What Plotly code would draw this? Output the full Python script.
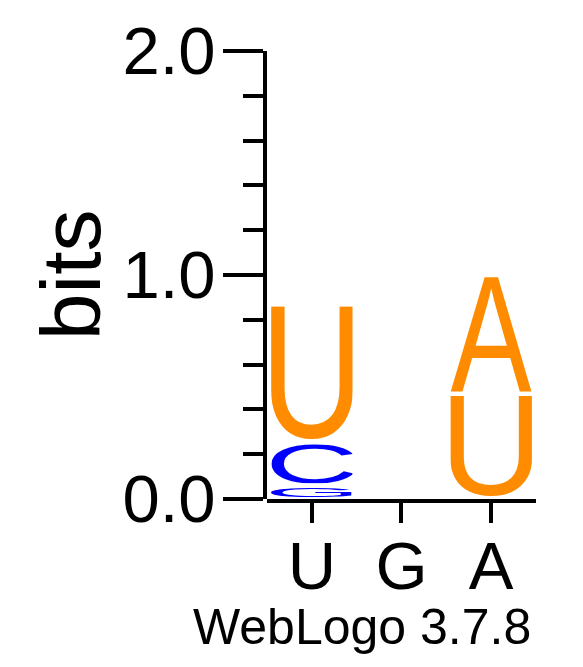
import base64
import plotly.graph_objects as go

# ---------------- data ----------------
positions = [1, 2, 3]
position_labels = ["U", "G", "A"]
# letters stacked in each column (bottom -> top) and their heights in bits
col1_letters = ["G", "C", "U"]
col1_bits = [0.061, 0.197, 0.612]
col2_letters = []
col2_bits = []
col3_letters = ["U", "A"]
col3_bits = [0.469, 0.530]
y_major_ticks = [0.0, 1.0, 2.0]
y_minor_step = 0.2
y_title = "bits"
footer = "WebLogo 3.7.8"

columns = [(col1_letters, col1_bits), (col2_letters, col2_bits), (col3_letters, col3_bits)]

# ---------------- style ----------------
FONT = "Liberation Sans, Arial, Helvetica, sans-serif"
COLORS = {"A": "#FF8C00", "U": "#FF8C00", "T": "#FF8C00", "G": "#0000FF", "C": "#0000FF"}
# approximate ink bounding boxes of the glyphs (font-size 100, baseline at 0)
GLYPH_BOX = {
    "U": (7.7, -68.8, 56.5, 70.0),
    "A": (-0.1, -68.8, 66.9, 68.8),
    "C": (4.8, -70.0, 62.8, 71.2),
    "G": (5.3, -70.0, 66.0, 71.2),
}
LETTER_WIDTH = 0.908   # fraction of a column
GAP = 0.009            # vertical padding (bits) above/below each glyph


def glyph_uri(ch):
    x0, y0, w, h = GLYPH_BOX[ch]
    svg = (
        f"<svg xmlns='http://www.w3.org/2000/svg' width='{w}' height='{h}' "
        f"viewBox='{x0} {y0} {w} {h}' preserveAspectRatio='none'>"
        f"<text x='0' y='0' font-family='Liberation Sans, Arial, sans-serif' "
        f"font-size='100' fill='{COLORS[ch]}'>{ch}</text></svg>"
    )
    return "data:image/svg+xml;base64," + base64.b64encode(svg.encode()).decode()


images = []
for pos, (letters, bits) in zip(positions, columns):
    bottom = 0.0
    for ch, h in zip(letters, bits):
        gh = h - 2 * GAP
        if gh > 0:
            images.append(dict(
                source=glyph_uri(ch), xref="x", yref="y",
                x=pos - LETTER_WIDTH / 2, y=bottom + h - GAP,
                sizex=LETTER_WIDTH, sizey=gh,
                sizing="stretch", xanchor="left", yanchor="top", layer="above",
            ))
        bottom += h

fig = go.Figure()
fig.add_trace(go.Scatter(x=positions, y=[0] * len(positions), mode="markers",
                         marker=dict(opacity=0), hoverinfo="skip", showlegend=False))

L, R, T, B = 264.5, 46.5, 50.5, 168
W, H = 583, 667
paper_w = W - L - R

fig.update_layout(
    width=W, height=H,
    margin=dict(l=L, r=R, t=T, b=B, pad=0),
    paper_bgcolor="white", plot_bgcolor="white",
    showlegend=False,
    images=images,
    font=dict(family=FONT, color="black"),
    xaxis=dict(
        domain=[2 / paper_w, 1], range=[positions[0] - 0.5, positions[-1] + 0.5],
        anchor="y", showline=True, linewidth=4, linecolor="black",
        ticks="outside", ticklen=20, tickwidth=4, tickcolor="black",
        tickvals=positions, ticktext=position_labels, ticklabelstandoff=-14,
        tickfont=dict(size=67, family=FONT, color="black"),
        showgrid=False, zeroline=False, fixedrange=True,
    ),
    yaxis=dict(
        anchor="free", position=0, range=[0, 2],
        showline=True, linewidth=4, linecolor="black",
        ticks="outside", ticklen=40, tickwidth=4, tickcolor="black",
        tickvals=y_major_ticks, tickformat=".1f", ticklabelstandoff=-6,
        tickfont=dict(size=67, family=FONT, color="black"),
        minor=dict(dtick=y_minor_step, ticks="outside", ticklen=20, tickwidth=4,
                   tickcolor="black", showgrid=False),
        showgrid=False, zeroline=False, fixedrange=True,
    ),
    annotations=[
        dict(text=y_title, xref="paper", yref="y", x=(70 - L) / paper_w, y=1.0,
             xanchor="center", yanchor="middle", textangle=-90, showarrow=False,
             font=dict(size=84, family=FONT, color="black")),
        dict(text=footer, xref="paper", yref="paper", x=(362 - L) / paper_w, y=0,
             xanchor="center", yanchor="top", yshift=-98, showarrow=False,
             font=dict(size=50, family=FONT, color="black")),
    ],
)

fig.write_html("out.html")
